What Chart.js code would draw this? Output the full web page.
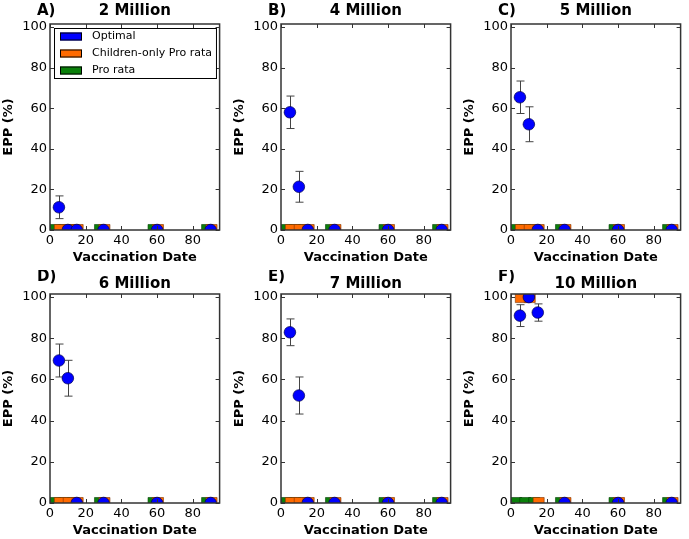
<!DOCTYPE html>
<html>
<head>
<meta charset="utf-8">
<script src="https://cdn.jsdelivr.net/npm/chart.js@4.4.1/dist/chart.umd.min.js"></script>
<style>
  body { margin: 0; background: #fff; width: 689px; height: 539px; overflow: hidden; position: relative; }
  .panel { position: absolute; }
</style>
</head>
<body>
<div class="panel" style="left:0px;top:0px;width:228px;height:266px"><canvas id="chartA"></canvas></div>
<div class="panel" style="left:231px;top:0px;width:228px;height:266px"><canvas id="chartB"></canvas></div>
<div class="panel" style="left:461px;top:0px;width:228px;height:266px"><canvas id="chartC"></canvas></div>
<div class="panel" style="left:0px;top:270px;width:228px;height:269px"><canvas id="chartD"></canvas></div>
<div class="panel" style="left:231px;top:270px;width:228px;height:269px"><canvas id="chartE"></canvas></div>
<div class="panel" style="left:461px;top:270px;width:228px;height:269px"><canvas id="chartF"></canvas></div>
<script>
// dados
const dates = [5, 10, 15, 30, 60, 90];
const xTicks = [0, 20, 40, 60, 80];
const yTicks = [0, 20, 40, 60, 80, 100];
const panelLetters = ['A)', 'B)', 'C)', 'D)', 'E)', 'F)'];
const panelTitles = ['2 Million', '4 Million', '5 Million', '6 Million', '7 Million', '10 Million'];
const seriesNames = ['Optimal', 'Children-only Pro rata', 'Pro rata'];

const optimal2M = [11.2, 0, 0, 0, 0, 0];
const optimal4M = [58, 21.3, 0, 0, 0, 0];
const optimal5M = [65.4, 52.1, 0, 0, 0, 0];
const optimal6M = [69.2, 60.6, 0, 0, 0, 0];
const optimal7M = [82.9, 52.2, 0, 0, 0, 0];
const optimal10M = [91, 100, 92.5, 0, 0, 0];

const optimalErr2M = [5.6, 0, 0, 0, 0, 0];
const optimalErr4M = [8, 7.6, 0, 0, 0, 0];
const optimalErr5M = [8, 8.6, 0, 0, 0, 0];
const optimalErr6M = [8, 8.7, 0, 0, 0, 0];
const optimalErr7M = [6.5, 9, 0, 0, 0, 0];
const optimalErr10M = [5.3, 0, 4.2, 0, 0, 0];

const childrenOnly2M = [0, 0, 0, 0, 0, 0];
const childrenOnly4M = [0, 0, 0, 0, 0, 0];
const childrenOnly5M = [0, 0, 0, 0, 0, 0];
const childrenOnly6M = [0, 0, 0, 0, 0, 0];
const childrenOnly7M = [0, 0, 0, 0, 0, 0];
const childrenOnly10M = [100, 100, 0, 0, 0, 0];

const proRata2M = [0, 0, 0, 0, 0, 0];
const proRata4M = [0, 0, 0, 0, 0, 0];
const proRata5M = [0, 0, 0, 0, 0, 0];
const proRata6M = [0, 0, 0, 0, 0, 0];
const proRata7M = [0, 0, 0, 0, 0, 0];
const proRata10M = [0, 0, 0, 0, 0, 0];

const panels = [
    { id: 'chartA', optimal: optimal2M, err: optimalErr2M, children: childrenOnly2M, proRata: proRata2M, titleDy: -13, letterDy: -13, legend: true },
    { id: 'chartB', optimal: optimal4M, err: optimalErr4M, children: childrenOnly4M, proRata: proRata4M, titleDy: -13, letterDy: -13 },
    { id: 'chartC', optimal: optimal5M, err: optimalErr5M, children: childrenOnly5M, proRata: proRata5M, titleDy: -13, letterDy: -13 },
    { id: 'chartD', optimal: optimal6M, err: optimalErr6M, children: childrenOnly6M, proRata: proRata6M, titleDy: -10, letterDy: -16.5 },
    { id: 'chartE', optimal: optimal7M, err: optimalErr7M, children: childrenOnly7M, proRata: proRata7M, titleDy: -10, letterDy: -16.5 },
    { id: 'chartF', optimal: optimal10M, err: optimalErr10M, children: childrenOnly10M, proRata: proRata10M, titleDy: -10, letterDy: -16.5 }
];

const colors = { proRata: '#0a800a', children: '#ff6a00', optimal: '#0000ff' };
const FONT = 'DejaVu Sans';

Chart.defaults.font.family = FONT;
Chart.defaults.font.size = 13;
Chart.defaults.color = '#000';

// moldura e ticks para dentro (estilo matplotlib)
const frameTicks = {
    id: 'frameTicks',
    afterDraw(chart) {
        const { ctx, chartArea: a, scales: { x, y } } = chart;
        ctx.save();
        ctx.strokeStyle = '#333';
        ctx.lineWidth = 1;
        ctx.beginPath();
        x.ticks.forEach(t => {
            const px = Math.round(x.getPixelForValue(t.value)) + 0.5;
            ctx.moveTo(px, a.bottom); ctx.lineTo(px, a.bottom - 4);
            ctx.moveTo(px, a.top); ctx.lineTo(px, a.top + 4);
        });
        y.ticks.forEach(t => {
            const py = Math.round(y.getPixelForValue(t.value)) + 0.5;
            ctx.moveTo(a.left, py); ctx.lineTo(a.left + 4, py);
            ctx.moveTo(a.right, py); ctx.lineTo(a.right - 4, py);
        });
        ctx.stroke();
        ctx.lineWidth = 1.5;
        ctx.strokeRect(a.left, a.top, a.width, a.height);
        ctx.restore();
    }
};

// barras de erro da serie Optimal
const errorBars = {
    id: 'errorBars',
    beforeDatasetsDraw(chart) {
        const { ctx, chartArea: a, scales: { x, y } } = chart;
        ctx.save();
        ctx.beginPath();
        ctx.rect(a.left, a.top, a.width, a.height);
        ctx.clip();
        ctx.strokeStyle = '#444';
        ctx.lineWidth = 1;
        chart.data.datasets.forEach(ds => {
            if (!ds.errors) return;
            ds.data.forEach((pt, i) => {
                const e = ds.errors[i];
                if (!e) return;
                const px = Math.round(x.getPixelForValue(pt.x)) + 0.5;
                const top = y.getPixelForValue(pt.y + e);
                const bot = y.getPixelForValue(pt.y - e);
                ctx.beginPath();
                ctx.moveTo(px, top); ctx.lineTo(px, bot);
                ctx.moveTo(px - 4, top); ctx.lineTo(px + 4, top);
                ctx.moveTo(px - 4, bot); ctx.lineTo(px + 4, bot);
                ctx.stroke();
            });
        });
        ctx.restore();
    }
};

// letra do painel e titulo
const panelHeader = {
    id: 'panelHeader',
    afterDraw(chart, args, opts) {
        const { ctx, chartArea: a } = chart;
        ctx.save();
        ctx.fillStyle = '#000';
        ctx.font = 'bold 15px "' + FONT + '"';
        ctx.textBaseline = 'middle';
        ctx.textAlign = 'center';
        ctx.fillText(opts.title, (a.left + a.right) / 2, a.top + opts.titleDy);
        ctx.textAlign = 'left';
        ctx.fillText(opts.letter, a.left - 13, a.top + opts.letterDy);
        ctx.restore();
    }
};

// legenda com moldura dentro da area do grafico
const boxLegend = {
    id: 'boxLegend',
    afterDraw(chart, args, opts) {
        if (!opts.display) return;
        const { ctx, chartArea: a } = chart;
        const items = chart.data.datasets;
        ctx.save();
        ctx.font = '11px "' + FONT + '"';
        const textW = Math.max(...items.map(d => ctx.measureText(d.label).width));
        const x0 = a.left + 4, y0 = a.top + 4;
        const w = 38 + textW + 4, h = 50;
        ctx.fillStyle = '#fff';
        ctx.fillRect(x0, y0, w, h);
        ctx.strokeStyle = '#000';
        ctx.lineWidth = 1;
        ctx.strokeRect(x0 + 0.5, y0 + 0.5, w, h);
        items.forEach((d, i) => {
            const cy = y0 + 8.5 + i * 17;
            ctx.fillStyle = d.backgroundColor;
            ctx.fillRect(x0 + 6, cy - 4, 22, 8);
            ctx.strokeRect(x0 + 6.5, cy - 3.5, 21, 7);
            ctx.fillStyle = '#000';
            ctx.textBaseline = 'middle';
            ctx.fillText(d.label, x0 + 38, cy);
        });
        ctx.restore();
    }
};

function points(values, offset) {
    return dates.map((d, i) => ({ x: d + offset, y: values[i] }));
}

function buildChart(p, idx) {
    const ctx = document.getElementById(p.id).getContext('2d');
    // no Chart.js o primeiro dataset fica por cima
    new Chart(ctx, {
        type: 'scatter',
        data: {
            datasets: [
                {
                    label: seriesNames[0],
                    data: points(p.optimal, 0),
                    errors: p.err,
                    pointStyle: 'circle',
                    pointRadius: 5.8,
                    backgroundColor: colors.optimal,
                    borderColor: '#000050',
                    borderWidth: 0.7,
                    clip: 0
                },
                {
                    label: seriesNames[1],
                    data: points(p.children, 0.5),
                    pointStyle: 'rect',
                    pointRadius: 7.8,
                    backgroundColor: colors.children,
                    borderColor: '#7a3300',
                    borderWidth: 0.6,
                    clip: 0
                },
                {
                    label: seriesNames[2],
                    data: points(p.proRata, -2),
                    pointStyle: 'rect',
                    pointRadius: 7.8,
                    backgroundColor: colors.proRata,
                    borderColor: '#063f06',
                    borderWidth: 0.6,
                    clip: 0
                }
            ]
        },
        options: {
            responsive: true,
            maintainAspectRatio: false,
            animation: false,
            layout: { padding: { top: 24, right: 5.5, left: 0, bottom: 0 } },
            plugins: {
                legend: { display: false },
                tooltip: { enabled: false },
                panelHeader: { letter: panelLetters[idx], title: panelTitles[idx], titleDy: p.titleDy, letterDy: p.letterDy },
                boxLegend: { display: !!p.legend }
            },
            scales: {
                x: {
                    type: 'linear',
                    min: 0,
                    max: 95,
                    afterFit: s => { s.height = 36; },
                    afterBuildTicks: s => { s.ticks = xTicks.map(v => ({ value: v })); },
                    grid: { display: false, drawTicks: false },
                    border: { display: false },
                    ticks: { padding: 3, maxRotation: 0, autoSkip: false, color: '#000' },
                    title: { display: true, text: 'Vaccination Date', font: { size: 13, weight: 'bold' }, color: '#000', padding: { top: 0, bottom: 1 } }
                },
                y: {
                    min: 0,
                    max: 101.5,
                    afterFit: s => { s.width = 50; },
                    afterBuildTicks: s => { s.ticks = yTicks.map(v => ({ value: v })); },
                    grid: { display: false, drawTicks: false },
                    border: { display: false },
                    ticks: { padding: 3, color: '#000' },
                    title: { display: true, text: 'EPP (%)', font: { size: 13, weight: 'bold' }, color: '#000', padding: { top: 1, bottom: 0 } }
                }
            }
        },
        plugins: [errorBars, frameTicks, panelHeader, boxLegend]
    });
}

document.addEventListener('DOMContentLoaded', () => {
    panels.forEach(buildChart);
});
</script>
</body>
</html>
